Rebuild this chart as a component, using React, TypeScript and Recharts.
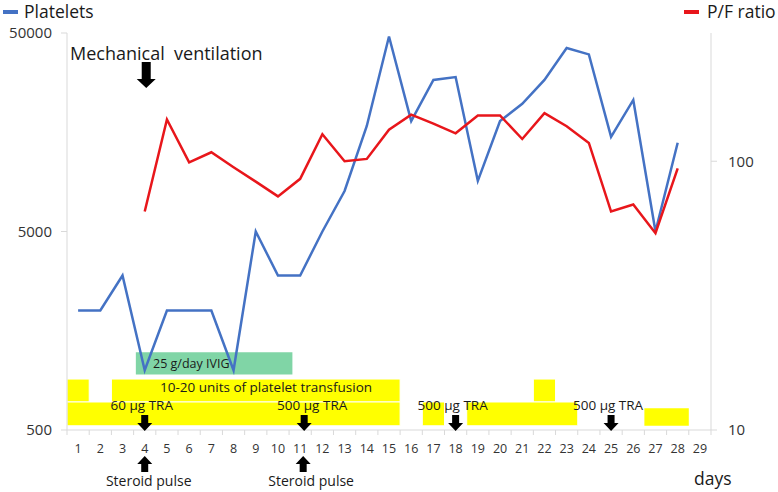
import { ComposedChart, Line, XAxis, YAxis, ReferenceArea } from 'recharts';

// day-by-day values
const days = [1, 2, 3, 4, 5, 6, 7, 8, 9, 10, 11, 12, 13, 14, 15, 16, 17, 18, 19, 20, 21, 22, 23, 24, 25, 26, 27, 28];
const platelets = [2000, 2000, 3000, 1000, 2000, 2000, 2000, 1000, 5000, 3000, 3000, 5000, 8000, 17000, 48000, 18000, 29000, 30000, 9000, 18000, 22000, 29000, 42000, 39000, 15000, 23000, 5000, 14000];
const pfRatio = [null, null, null, 65, 143, 99, 108, 95, 84, 74, 86, 126, 100, 102, 131, 149, 138, 127, 148, 148, 121, 151, 135, 117, 65, 69, 54, 94];

const dayTicks = [1, 2, 3, 4, 5, 6, 7, 8, 9, 10, 11, 12, 13, 14, 15, 16, 17, 18, 19, 20, 21, 22, 23, 24, 25, 26, 27, 28, 29];
const plateletTicks = [500, 5000, 50000];
const pfTicks = [10, 100];

// treatment periods (in days)
const transfusionUpper = [[0.5, 1.5], [2.5, 15.5], [21.5, 22.5]];
const transfusionLower = [[0.5, 15.5], [16.5, 17.5], [18.5, 23.5]];
const transfusionLate = [[26.5, 28.5]];
const ivigPeriod = [3.6, 10.65];
const traDays = [4, 11, 18, 25];
const traLabels = ['60 µg TRA', '500 µg TRA', '500 µg TRA', '500 µg TRA'];
const steroidDays = [4, 11];
const ventilationDay = 4;

const data = days.map((d, i) => ({ day: d, platelets: platelets[i], pf: pfRatio[i] }));

const W = 778;
const H = 492;
const PLOT_LEFT = 67;
const PLOT_RIGHT = 711;
const PLOT_TOP = 33;
const PLOT_BOTTOM = 430;
const BAND = (PLOT_RIGHT - PLOT_LEFT) / 29;
const dayX = (d: number) => PLOT_LEFT + (d - 0.5) * BAND;

const AXIS = '#d9d9d9';
const BLUE = '#4472C4';
const RED = '#E8161B';
const YELLOW = '#FFFF00';
const GREEN = '#80D5A6';
const TEXT = '#1a1a1a';

// lane heights in left-axis units
const UPPER_LANE = [692, 903];
const LOWER_LANE = [525, 692];
const LATE_LANE = [525, 643];
const IVIG_LANE = [953, 1232];
const TRA_DX = [-3, 12, -3, -3];
const STEROID_DX = [4, 11];

function DayTick(props: any) {
  const { x, y, payload, index } = props;
  const axisY = PLOT_BOTTOM;
  return (
    <g>
      <line x1={x - BAND / 2} x2={x - BAND / 2} y1={axisY} y2={axisY + 5} stroke={AXIS} />
      {index === dayTicks.length - 1 && (
        <line x1={x + BAND / 2} x2={x + BAND / 2} y1={axisY} y2={axisY + 5} stroke={AXIS} />
      )}
      <text x={x} y={453} textAnchor="middle" fontSize={12.5} fill="#333">
        {payload.value}
      </text>
    </g>
  );
}

function DownArrow({ x, top, shaftW, shaftH, headW, headH }: any) {
  const s = shaftW / 2;
  const h = headW / 2;
  const pts = [
    [x - s, top],
    [x + s, top],
    [x + s, top + shaftH],
    [x + h, top + shaftH],
    [x, top + shaftH + headH],
    [x - h, top + shaftH],
    [x - s, top + shaftH],
  ];
  return <polygon points={pts.map((p) => p.join(',')).join(' ')} fill="#000" />;
}

function UpArrow({ x, top, shaftW, shaftH, headW, headH }: any) {
  const s = shaftW / 2;
  const h = headW / 2;
  const pts = [
    [x, top],
    [x + h, top + headH],
    [x + s, top + headH],
    [x + s, top + headH + shaftH],
    [x - s, top + headH + shaftH],
    [x - s, top + headH],
    [x - h, top + headH],
  ];
  return <polygon points={pts.map((p) => p.join(',')).join(' ')} fill="#000" />;
}

export default function App() {
  return (
    <div
      style={{
        position: 'absolute',
        left: 0,
        top: 0,
        width: W,
        height: H,
        background: '#fff',
        fontFamily: "'Open Sans', sans-serif",
      }}
    >
      <ComposedChart
        width={W}
        height={H}
        data={data}
        margin={{ top: PLOT_TOP, right: 0, bottom: 0, left: 0 }}
      >
        <XAxis
          dataKey="day"
          type="number"
          domain={[0.5, 29.5]}
          ticks={dayTicks}
          allowDataOverflow
          height={H - PLOT_BOTTOM}
          stroke={AXIS}
          tickLine={false}
          tick={<DayTick />}
          interval={0}
        />
        <YAxis
          yAxisId="left"
          scale="log"
          domain={[500, 50000]}
          ticks={plateletTicks}
          allowDataOverflow
          width={PLOT_LEFT}
          stroke={AXIS}
          tickSize={6}
          tickMargin={9}
          tick={{ fontSize: 15, fill: '#333' }}
        />
        <YAxis
          yAxisId="right"
          orientation="right"
          scale="log"
          domain={[10, 300]}
          ticks={pfTicks}
          allowDataOverflow
          width={W - PLOT_RIGHT}
          stroke={AXIS}
          tickSize={6}
          tickMargin={11}
          tick={{ fontSize: 15, fill: '#333', textAnchor: 'start' }}
        />

        {transfusionUpper.map(([a, b], i) => (
          <ReferenceArea key={'u' + i} yAxisId="left" x1={a} x2={b} y1={UPPER_LANE[0]} y2={UPPER_LANE[1]} fill={YELLOW} fillOpacity={1} stroke="#fff" strokeWidth={1} />
        ))}
        {transfusionLower.map(([a, b], i) => (
          <ReferenceArea key={'l' + i} yAxisId="left" x1={a} x2={b} y1={LOWER_LANE[0]} y2={LOWER_LANE[1]} fill={YELLOW} fillOpacity={1} stroke="#fff" strokeWidth={1} />
        ))}
        {transfusionLate.map(([a, b], i) => (
          <ReferenceArea key={'t' + i} yAxisId="left" x1={a} x2={b} y1={LATE_LANE[0]} y2={LATE_LANE[1]} fill={YELLOW} fillOpacity={1} stroke="none" />
        ))}
        <ReferenceArea yAxisId="left" x1={ivigPeriod[0]} x2={ivigPeriod[1]} y1={IVIG_LANE[0]} y2={IVIG_LANE[1]} fill={GREEN} fillOpacity={1} stroke="none" />

        <Line yAxisId="left" dataKey="platelets" stroke={BLUE} strokeWidth={2.5} dot={false} isAnimationActive={false} />
        <Line yAxisId="right" dataKey="pf" stroke={RED} strokeWidth={2.5} dot={false} isAnimationActive={false} />
      </ComposedChart>

      <svg
        width={W}
        height={H}
        style={{ position: 'absolute', left: 0, top: 0, pointerEvents: 'none' }}
        fontFamily="'Open Sans', sans-serif"
      >
        {/* legend */}
        <rect x={3} y={10} width={15} height={4} fill={BLUE} />
        <text x={24} y={18} fontSize={17.5} fill={TEXT}>Platelets</text>
        <rect x={684} y={10} width={15} height={4} fill={RED} />
        <text x={707} y={18} fontSize={17.5} fill={TEXT}>P/F ratio</text>

        <text x={70} y={60} fontSize={18} fill={TEXT} style={{ whiteSpace: 'pre' }}>Mechanical  ventilation</text>
        <DownArrow x={dayX(ventilationDay) + 1.5} top={62} shaftW={9} shaftH={17} headW={19} headH={9} />

        <text x={153} y={368} fontSize={12.5} fill={TEXT}>25 g/day IVIG</text>
        <text x={266} y={392} fontSize={13.5} fill={TEXT} textAnchor="middle">10-20 units of platelet transfusion</text>

        {traDays.map((d, i) => (
          <g key={'tra' + d}>
            <text x={dayX(d) + TRA_DX[i]} y={410} fontSize={13.5} fill={TEXT} textAnchor="middle">{traLabels[i]}</text>
            <DownArrow x={dayX(d) + (i === 1 ? 4 : 0)} top={415} shaftW={7} shaftH={8} headW={15} headH={8} />
          </g>
        ))}

        {steroidDays.map((d, i) => (
          <g key={'st' + d}>
            <UpArrow x={dayX(d) + (i === 1 ? 3 : 0)} top={456} shaftW={7} shaftH={8} headW={15} headH={8} />
            <text x={dayX(d) + STEROID_DX[i]} y={486} fontSize={14} fill={TEXT} textAnchor="middle">Steroid pulse</text>
          </g>
        ))}

        <text x={694} y={485} fontSize={17.5} fill={TEXT}>days</text>
      </svg>
    </div>
  );
}
